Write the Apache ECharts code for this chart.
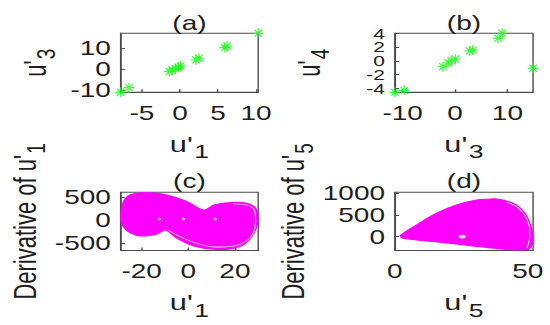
<!DOCTYPE html>
<html>
<head>
<meta charset="utf-8">
<script src="https://cdn.jsdelivr.net/npm/echarts@6/dist/echarts.min.js"></script>
<style>
html,body{margin:0;padding:0;background:#fff;overflow:hidden;}
#wrap{width:550px;height:325px;overflow:hidden;}
#c{width:393px;height:325px;transform:scaleX(1.3995);transform-origin:0 0;}
</style>
</head>
<body>
<div id="wrap"><div id="c"></div></div>
<script>
// ---- data ----
// (a) u'1 vs u'3
const aX = [-7.8, -6.7, -1.4, -1.0, -0.6, -0.2, 0.1, 2.1, 2.5, 5.9, 6.2, 10.3];
const aY = [-11.1, -8.9, -1.2, -0.5, 0.2, 0.9, 1.5, 4.4, 5.2, 10.3, 11.0, 17.1];
// (b) u'3 vs u'4
const bX = [-11.5, -9.7, -2.3, -1.3, -0.7, 0.1, 2.8, 3.4, 8.2, 9.0, 14.9];
const bY = [-4.58, -4.3, -0.86, -0.28, 0.01, 0.26, 1.43, 1.57, 3.27, 4.0, -1.09];
// (c) u'1 vs derivative of u'1 : outline of the densely filled trajectory
const cX = [-29.0, -28.1, -25.0, -17.8, -9.1, -0.5, 6.7, 11.0, 16.8, 24.0, 28.3, 29.7, 29.4, 25.4, 19.6, 11.0, 2.4, -4.8, -9.9, -13.4, -20.7, -25.7, -28.3];
const cY = [37, 363, 543, 602, 543, 398, 217, 326, 376, 376, 289, 146, -146, -472, -615, -637, -565, -398, -217, -304, -348, -254, -109];
// thin white gap near the outer orbit (c)
const cGapX = [-8.4, -2.6, 4.5, 11.7, 19.0, 24.7, 27.9, 28.9, 28.6, 27.5, 23.8, 19.1];
const cGapY = [-228, -385, -522, -587, -572, -467, -283, -37, 174, 272, 341, 352];
// white holes (c)
const cHoleX = [-12.3, -2.0, 11.7];
const cHoleY = [20, 20, 20];
// (d) u'5 vs derivative of u'5
const dX = [2.1, 8.2, 15.7, 23.2, 30.7, 35.0, 38.2, 44.5, 48.9, 51.4, 52.0, 50.8, 48.2, 47.0, 40.7, 29.4, 16.9, 3.1];
const dY = [23, 270, 539, 730, 845, 862, 869, 770, 539, 194, -76, -267, -318, -318, -290, -214, -129, -37];
const dGapX = [42.0, 46.4, 49.5, 50.8, 50.5, 49.5];
const dGapY = [793, 668, 424, 115, -115, -267];
const dHoleX = [25.4];
const dHoleY = [0];
// tick labels
const aXTicks = [-5, 0, 5, 10], aYTicks = [-10, 0, 10];
const bXTicks = [-10, 0, 10], bYTicks = [-4, -2, 0, 2, 4];
const bYTicksA = [-4, 0, 4], bYTicksB = [-2, 2]; // (b) labels split over two label rows so all show
const cXTicks = [-20, 0, 20], cYTicks = [-500, 0, 500];
const dXTicks = [0, 50], dYTicks = [0, 500, 1000];
// axis ranges
const aXR = [-7.8, 10.3], aYR = [-11.1, 17.1];
const bXR = [-11.5, 14.9], bYR = [-4.58, 4.0];
const cXR = [-29, 30], cYR = [-663, 602];
const dXR = [0, 52], dYR = [-320, 1022];
const titles = ['(a)', '(b)', '(c)', '(d)'];

// ---- chart ----
const FONT = 'Liberation Sans, Arial, sans-serif';
const TXT = '#1e1e1e';
const AX = '#4d4d4d';
const GREEN = '#1aff1a';
const MAG = '#ff00ff';
const zip = (xs, ys) => xs.map((x, i) => [x, ys[i]]);

const grids = [
  {left: 86.2, top: 33.3, width: 98.3, height: 59},
  {left: 282.1, top: 33.3, width: 98.8, height: 59},
  {left: 86.2, top: 192.3, width: 98.3, height: 58.2},
  {left: 282.1, top: 192.3, width: 98.8, height: 58.2}
].map(g => Object.assign(g, {show: true, borderColor: AX, borderWidth: 1, backgroundColor: '#fff', containLabel: false}));

const richName = {
  m: {fontSize: 22, fontFamily: FONT, color: TXT},
  s: {fontSize: 19, fontFamily: FONT, color: TXT, padding: [15, 0, 0, 1]}
};
function axis(gi, range, ticks, labels, name, gap, isY, labelSize) {
  return {
    type: 'value', gridIndex: gi, min: range[0], max: range[1], scale: true,
    position: isY ? 'left' : 'bottom',
    name: name, nameLocation: 'middle', nameGap: gap, nameRotate: isY ? 90 : 0,
    nameTextStyle: {fontSize: 22, fontFamily: FONT, color: TXT, rich: richName},
    axisLine: {show: true, onZero: false, lineStyle: {color: AX, width: 1}},
    axisTick: {show: true, inside: true, length: 3, customValues: ticks, lineStyle: {color: AX}},
    axisLabel: {show: true, customValues: labels, fontSize: labelSize || 20, fontFamily: FONT, color: TXT,
      margin: isY ? 7 : 11, hideOverlap: false, formatter: v => String(v)},
    splitLine: {show: false}
  };
}
const xAxes = [
  axis(0, aXR, aXTicks, aXTicks, "{m|u'}{s|1}", 35, false),
  axis(1, bXR, bXTicks, bXTicks, "{m|u'}{s|3}", 35, false),
  axis(2, cXR, cXTicks, cXTicks, "{m|u'}{s|1}", 35, false),
  axis(3, dXR, dXTicks, dXTicks, "{m|u'}{s|5}", 35, false)
];
const bExtra = axis(1, bYR, bYTicks, bYTicksB, '', 44, true, 15);
bExtra.axisLine = {show: false};
bExtra.axisTick = {show: false};
bExtra.offset = 0;
const yAxes = [
  axis(0, aYR, aYTicks, aYTicks, "{m|u'}{s|3}", 44, true),
  axis(1, bYR, bYTicks, bYTicksA, "{m|u'}{s|4}", 44, true, 15),
  axis(2, cYR, cYTicks, cYTicks, "{m|Derivative of u'}{s|1}", 46, true),
  axis(3, dYR, dYTicks, dYTicks, "{m|Derivative of u'}{s|5}", 46, true),
  bExtra
];

const star = 'path://M0 8.8L20 8.8L20 11.2L0 11.2Z M8.8 0L11.2 0L11.2 20L8.8 20Z M3.7 2L18 16.3L16.3 18L2 3.7Z M16.3 2L18 3.7L3.7 18L2 16.3Z';

function polySeries(gi, xs, ys) {
  return {
    type: 'custom', xAxisIndex: gi, yAxisIndex: gi, clip: true,
    data: [0],
    renderItem: function (params, api) {
      const pts = xs.map((x, i) => api.coord([x, ys[i]]));
      return {type: 'polygon', shape: {points: pts, smooth: 0.35},
        style: {fill: MAG, stroke: MAG, lineWidth: 1}};
    }
  };
}
function gapSeries(gi, xs, ys) {
  return {type: 'line', xAxisIndex: gi, yAxisIndex: gi, data: zip(xs, ys), smooth: 0.4,
    symbol: 'none', lineStyle: {color: '#fff', width: 0.8, opacity: 0.9}, silent: true};
}
function holeSeries(gi, xs, ys, size) {
  return {type: 'scatter', xAxisIndex: gi, yAxisIndex: gi, data: zip(xs, ys),
    symbol: 'circle', symbolSize: size, itemStyle: {color: '#fff'}, silent: true};
}
function starSeries(gi, xs, ys) {
  return {type: 'scatter', xAxisIndex: gi, yAxisIndex: gi, data: zip(xs, ys), clip: false,
    symbol: star, symbolSize: [7.5, 10], itemStyle: {color: GREEN}};
}

const centers = grids.map(g => g.left + g.width / 2);
const option = {
  animation: false,
  backgroundColor: '#fff',
  title: titles.map((t, i) => ({
    text: t, left: centers[i], top: i < 2 ? 13 : 171.5, textAlign: 'center', padding: 0,
    textStyle: {fontSize: 20, fontWeight: 'normal', fontFamily: FONT, color: TXT}
  })),
  grid: grids,
  xAxis: xAxes,
  yAxis: yAxes,
  series: [
    starSeries(0, aX, aY),
    starSeries(1, bX, bY),
    polySeries(2, cX, cY),
    gapSeries(2, cGapX, cGapY),
    holeSeries(2, cHoleX, cHoleY, 2.5),
    polySeries(3, dX, dY),
    gapSeries(3, dGapX, dGapY),
    holeSeries(3, dHoleX, dHoleY, [5.5, 3.5])
  ]
};
const chart = echarts.init(document.getElementById('c'), null, {renderer: 'svg'});
chart.setOption(option);
</script>
</body>
</html>
